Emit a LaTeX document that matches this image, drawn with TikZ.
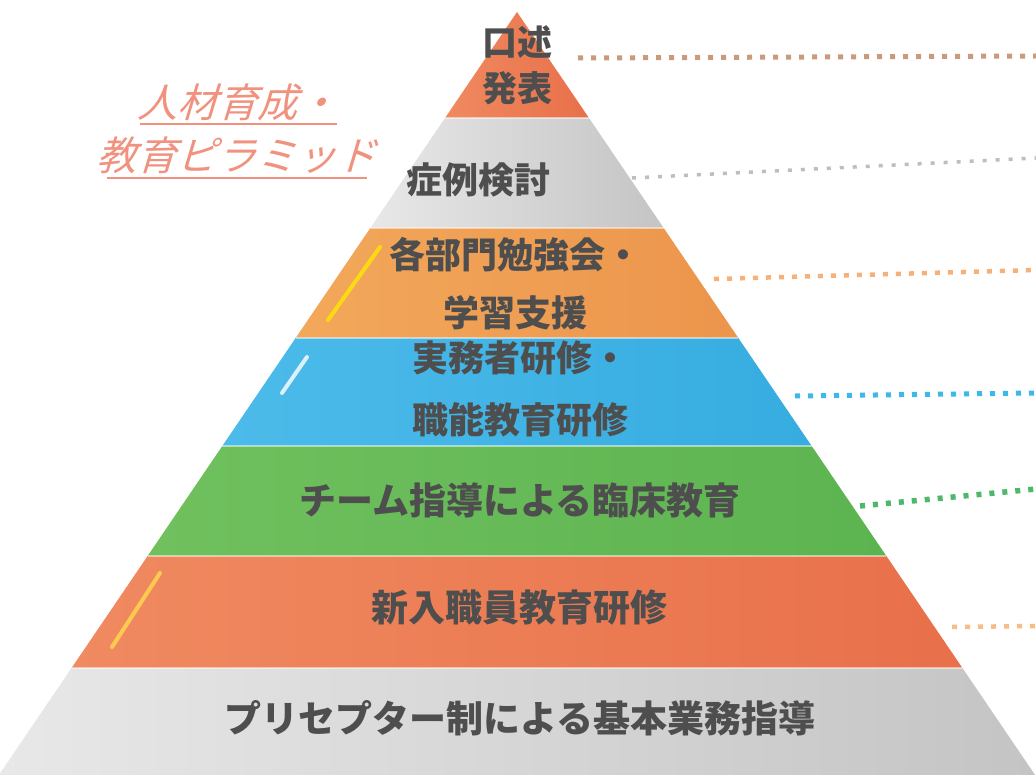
\documentclass[tikz,border=0pt]{standalone}
\usepackage{fontspec}
\newfontfamily\jp{Noto Sans CJK JP}
\newfontfamily\jpslant[FakeSlant=0.3]{Noto Sans CJK JP}
\usetikzlibrary{positioning
                }
\definecolor{txtgray}{HTML}{4E4E4E}
\definecolor{ttlpink}{HTML}{F0927E}
\definecolor{redL}{HTML}{F08A60}
\definecolor{redD}{HTML}{E8704A}
\definecolor{grayL}{HTML}{E8E8E8}
\definecolor{grayD}{HTML}{C4C4C4}
\definecolor{oraL}{HTML}{F2A85A}
\definecolor{oraD}{HTML}{EC954C}
\definecolor{bluL}{HTML}{4CBBEA}
\definecolor{bluD}{HTML}{36ACE0}
\definecolor{grnL}{HTML}{70C05E}
\definecolor{grnD}{HTML}{5CB450}
\definecolor{dtTan}{HTML}{C99A7C}
\definecolor{dtGray}{HTML}{BEBEBE}
\definecolor{dtOra}{HTML}{F6B07A}
\definecolor{dtBlu}{HTML}{3DB8E8}
\definecolor{dtGrn}{HTML}{4DB86A}
\definecolor{dtPch}{HTML}{F8BC88}

\begin{document}
\begin{tikzpicture}[
        x = 1pt, y = -1pt,
        lvl/.style = {font=\jp\bfseries\fontsize{36}{46}\selectfont, text=txtgray,
                      align=center, inner sep=0pt},
        wide/.style = {font=\jp\bfseries\fontsize{37}{46}\selectfont},
        title/.style = {font=\jpslant\fontsize{40}{42}\selectfont, text=ttlpink,
                        inner sep=0pt},
        dots/.style = {line cap=butt, dash pattern=on 5pt off 8pt},
        gleam/.style = {line width=4pt, line cap=round, opacity=0.8}
    ]
    \useasboundingbox[fill=white] (0,0) rectangle (1036,775);
    \foreach \ya/\yb/\ca/\cb in {12/118/redL/redD,
                                118/228/grayL/grayD,
                                228/338/oraL/oraD,
                                338/446/bluL/bluD,
                                446/556/grnL/grnD,
                                556/668/redL/redD,
                                668/775/grayL/grayD}
    {
        \shade[left color=\ca, right color=\cb]
            ({517-0.679*(\ya-12)},\ya) -- ({517+0.679*(\ya-12)},\ya)
            -- ({517+0.679*(\yb-12)},\yb) -- ({517-0.679*(\yb-12)},\yb) -- cycle;
        \draw[white, opacity=0.5, line width=2pt]
            ({517-0.679*(\ya-12)},\ya) -- ({517+0.679*(\ya-12)},\ya);
    }
    \draw[gleam, yellow!90!orange] (380,247) -- (328,320);
    \draw[gleam, white] (307,357) -- (282,393);
    \draw[gleam, orange!40!yellow!70!white] (160,573) -- (112,647);

    \node (l1) [lvl, font=\jp\bfseries\fontsize{35}{46}\selectfont] at (517,65)
        {口述\\発表};
    \node (l2) [lvl] at (478,180) {症例検討};
    \node (l3) [lvl, font=\jp\bfseries\fontsize{36}{58}\selectfont] at (515,284)
        {各部門勉強会・\\学習支援};
    \node (l4) [lvl, font=\jp\bfseries\fontsize{36}{62}\selectfont] at (520,389)
        {実務者研修・\\職能教育研修};
    \node (l5) [lvl, wide] at (520,500) {チーム指導による臨床教育};
    \node (l6) [lvl, wide] at (519,608) {新入職員教育研修};
    \node (l7) [lvl, wide] at (520,718) {プリセプター制による基本業務指導};

    \node (ttl1) [title] at (237,102) {人材育成・};
    \node (ttl2) [title] at (236,155) {教育ピラミッド};
    \draw[ttlpink, line width=1.2pt] (140,124) -- (337,124);
    \draw[ttlpink, line width=1.2pt] (107,178) -- (367,178);

    \coordinate (d1s) at (578,58);  \coordinate (d1e) at (1036,56);
    \coordinate (d2s) at (632,178); \coordinate (d2e) at (1036,158);
    \coordinate (d3s) at (714,279); \coordinate (d3e) at (1036,270);
    \coordinate (d4s) at (795,396); \coordinate (d4e) at (1036,393);
    \coordinate (d5s) at (860,506); \coordinate (d5e) at (1036,489);
    \coordinate (d6s) at (952,627); \coordinate (d6e) at (1036,626);
    \draw[dots, dtTan, line width=5pt] (d1s) -- (d1e);
    \draw[dots, dtGray, line width=3.5pt, dash pattern=on 4pt off 9pt] (d2s) -- (d2e);
    \draw[dots, dtOra, line width=4.5pt] (d3s) -- (d3e);
    \draw[dots, dtBlu, line width=5pt] (d4s) -- (d4e);
    \draw[dots, dtGrn, line width=5.5pt] (d5s) -- (d5e);
    \draw[dots, dtPch, line width=4.5pt] (d6s) -- (d6e);
\end{tikzpicture}
\end{document}
